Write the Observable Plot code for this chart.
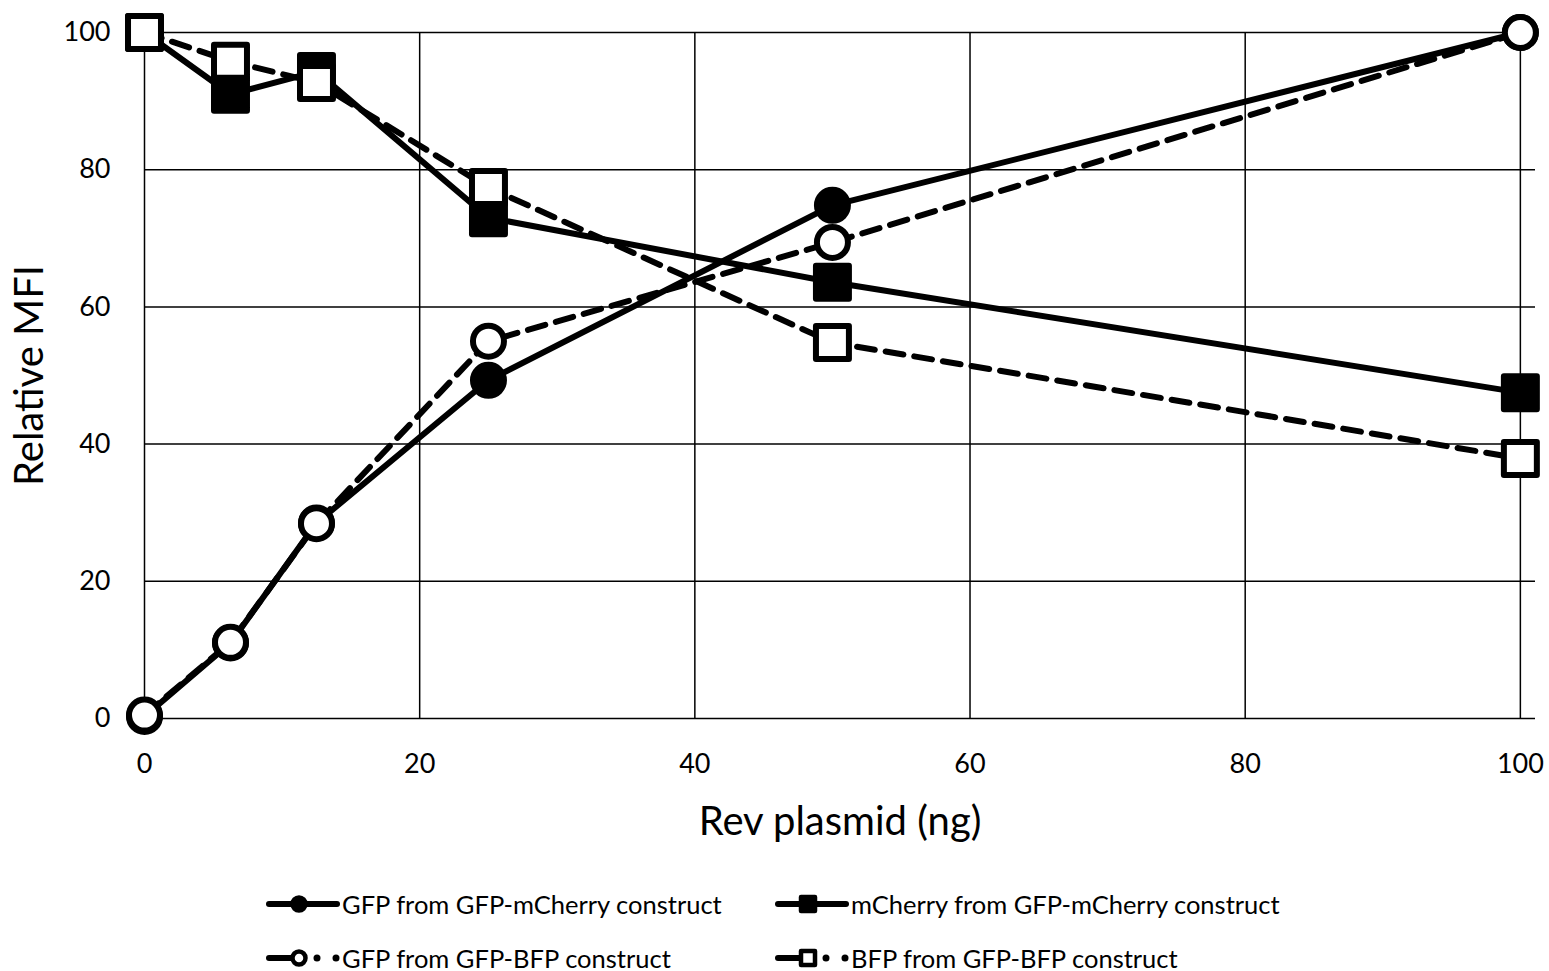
<!DOCTYPE html>
<html>
<head>
<meta charset="utf-8">
<script src="https://cdn.jsdelivr.net/npm/d3@7"></script>
<script src="https://cdn.jsdelivr.net/npm/@observablehq/plot@0.6"></script>
<style>
  html, body { margin: 0; padding: 0; background: #fff; }
  #wrap { position: relative; width: 1549px; height: 971px; font-family: Lato, "Open Sans", sans-serif; color: #000; }
  g[aria-label="x-axis label"] text, g[aria-label="y-axis label"] text { font-size: 40px; }
  .leg { position: absolute; display: flex; align-items: center; font-size: 25.5px; white-space: nowrap; }
  .leg svg { display: block; margin-right: 2px; }
</style>
</head>
<body>
<div id="wrap"></div>
<script>
// ---- data ----
const doses = [0, 6.25, 12.5, 25, 50, 100];
const seriesNames = [
  "GFP from GFP-mCherry construct",
  "mCherry from GFP-mCherry construct",
  "GFP from GFP-BFP construct",
  "BFP from GFP-BFP construct"
];
const gfpMcherry = [0.3, 11.0, 28.5, 49.3, 74.8, 100];
const mcherry    = [100, 91.0, 94.3, 73.0, 63.6, 47.5];
const gfpBfp     = [0.5, 11.1, 28.4, 55.0, 69.4, 100];
const bfp        = [100, 95.8, 92.7, 77.4, 54.8, 37.9];
const xTicks = [0, 20, 40, 60, 80, 100];
const yTicks = [0, 20, 40, 60, 80, 100];

// ---- styles per series ----
const seriesValues = [gfpMcherry, mcherry, gfpBfp, bfp];
const styles = [
  {symbol: "circle", fill: "black", dash: null, r: 15.5},
  {symbol: "square", fill: "black", dash: null, r: 18.6},
  {symbol: "circle", fill: "white", dash: "18,11", r: 15.5},
  {symbol: "square", fill: "white", dash: "18,11", r: 18.6}
];

const tables = seriesValues.map((vals, s) =>
  doses.map((x, i) => ({series: seriesNames[s], x, y: vals[i]})));

const marks = [
  Plot.gridX(xTicks, {stroke: "black", strokeOpacity: 1, strokeWidth: 1.5}),
  Plot.gridY(yTicks, {stroke: "black", strokeOpacity: 1, strokeWidth: 1.5}),
  Plot.axisX({ticks: xTicks, tickSize: 0, tickPadding: 35, label: "Rev plasmid (ng)", labelAnchor: "center", labelArrow: "none", labelOffset: 116}),
  Plot.axisY({ticks: yTicks, tickSize: 0, tickPadding: 34, label: "Relative MFI", labelAnchor: "center", labelArrow: "none", labelOffset: 130})
];
tables.forEach((t, s) => {
  const st = styles[s];
  marks.push(Plot.line(t, {x: "x", y: "y", stroke: "black", strokeWidth: 6, strokeDasharray: st.dash, strokeLinejoin: "round"}));
  marks.push(Plot.dot(t, {x: "x", y: "y", symbol: st.symbol, r: st.r, fill: st.fill, stroke: "black", strokeWidth: 6, strokeLinejoin: "round"}));
});

const chart = Plot.plot({
  width: 1549,
  height: 860,
  marginTop: 32,
  marginBottom: 142,
  marginLeft: 144,
  marginRight: 14,
  x: {domain: [0, 101.1]},
  y: {domain: [0, 100]},
  style: {fontFamily: "Lato, 'Open Sans', sans-serif", fontSize: "27px", color: "black", background: "white", overflow: "visible"},
  marks
});
const wrap = document.getElementById("wrap");
wrap.appendChild(chart);

// ---- legend ----
const legPos = [
  {left: 266, top: 904}, {left: 775, top: 904},
  {left: 266, top: 958}, {left: 775, top: 958}
];
seriesNames.forEach((name, s) => {
  const st = styles[s];
  const div = document.createElement("div");
  div.className = "leg";
  div.style.left = legPos[s].left + "px";
  div.style.top = (legPos[s].top - 18) + "px";
  div.style.height = "36px";
  const w = 74, h = 36, cx = 33, cy = 18;
  let marker;
  if (st.symbol === "circle") {
    marker = `<circle cx="${cx}" cy="${cy}" r="6.5" fill="${st.fill}" stroke="black" stroke-width="4.5"/>`;
  } else {
    marker = `<rect x="${cx - 7}" y="${cy - 7}" width="14" height="14" fill="${st.fill}" stroke="black" stroke-width="4.5" stroke-linejoin="round"/>`;
  }
  const line = st.dash
    ? `<line x1="3" y1="${cy}" x2="${cx}" y2="${cy}" stroke="black" stroke-width="6" stroke-linecap="round"/><circle cx="${cx + 18}" cy="${cy}" r="3.5" fill="black"/><circle cx="${w - 4}" cy="${cy}" r="3.5" fill="black"/>`
    : `<line x1="3" y1="${cy}" x2="${w - 3}" y2="${cy}" stroke="black" stroke-width="6" stroke-linecap="round"/>`;
  div.innerHTML = `<svg width="${w}" height="${h}">${line}${marker}</svg><span>${name}</span>`;
  wrap.appendChild(div);
});
</script>
</body>
</html>
